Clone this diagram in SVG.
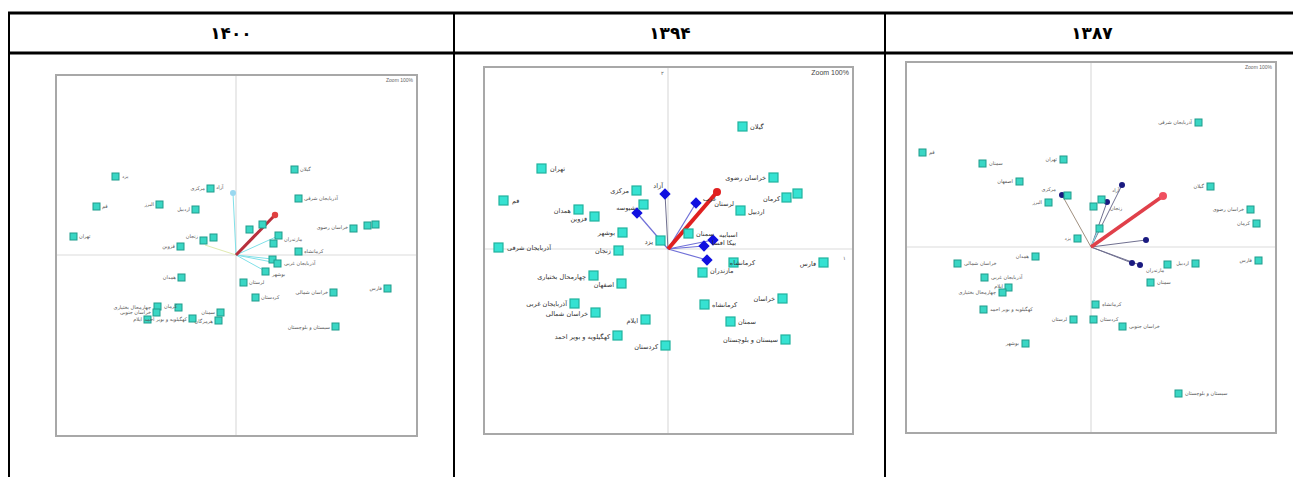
<svg xmlns="http://www.w3.org/2000/svg" width="1293" height="477" viewBox="0 0 1293 477">
<style>
.tb{stroke:#000;stroke-width:3;fill:none}
.tv{stroke:#000;stroke-width:2;fill:none}
.hd{font-family:"DejaVu Sans",sans-serif;font-weight:bold;font-size:17px;fill:#000;text-anchor:middle}
.fr{fill:#fff;stroke:#a8a8a8;stroke-width:2}
.ax{stroke:#dcdcdc;stroke-width:1.2}
.s1{fill:#3ad6c4;stroke:#1f9c8c;stroke-width:1}
.s2{fill:#36e2d2;stroke:#20b39e;stroke-width:1.2}
.lb{font-family:"DejaVu Sans",sans-serif;font-size:5px;fill:#555}
.lb2{font-family:"DejaVu Sans",sans-serif;font-size:6.5px;fill:#333}
.r{text-anchor:end}
.zm{font-family:"Liberation Sans",sans-serif;font-size:5px;fill:#666;text-anchor:end}
.zm2{font-family:"Liberation Sans",sans-serif;font-size:7px;fill:#444;text-anchor:end}
.dm{fill:#1010e0}
.nv{fill:#1a1a80}
.bl{stroke:#7070d8;stroke-width:1.2}
.gl{stroke:#707090;stroke-width:1}
.cl{stroke:#80e0e8;stroke-width:1}
</style>

<g id="table">
<line class="tb" x1="8" y1="13" x2="1293" y2="13"/>
<line class="tb" x1="8" y1="53" x2="1293" y2="53"/>
<line class="tv" x1="9" y1="12" x2="9" y2="477"/>
<line class="tv" x1="454" y1="12" x2="454" y2="477"/>
<line class="tv" x1="885" y1="12" x2="885" y2="477"/>
<text class="hd" x="231" y="39">۱۴۰۰</text>
<text class="hd" x="670" y="39">۱۳۹۴</text>
<text class="hd" x="1092" y="39">۱۳۸۷</text>
</g>

<!-- Panel 1400 -->
<g id="panel1400">
<rect class="fr" x="56" y="75" width="361" height="361"/>
<line class="ax" x1="236" y1="76" x2="236" y2="435"/>
<line class="ax" x1="57" y1="255" x2="416" y2="255"/>
<text class="zm" x="413" y="82">Zoom 100%</text>
<g id="p1-connectors">
<line x1="236" y1="255" x2="205" y2="245" stroke="#e0eab0" stroke-width="1"/>
<line class="cl" x1="236" y1="255" x2="233" y2="193"/>
<line class="cl" x1="236" y1="255" x2="272" y2="259"/>
<line class="cl" x1="236" y1="255" x2="277" y2="263"/>
<line class="cl" x1="236" y1="255" x2="265" y2="271"/>
<line class="cl" x1="236" y1="255" x2="278" y2="236"/>
<line x1="236" y1="255" x2="268" y2="222" stroke="#6a7ad8" stroke-width="1.5"/>
<line x1="236" y1="255" x2="275" y2="215" stroke="#b8303c" stroke-width="3"/>
<circle cx="275" cy="215" r="3.2" fill="#e04040"/>
<circle cx="233" cy="193" r="3" fill="#9ad8f0"/>
</g>
<g id="p1-n1"><rect class="s1" x="112" y="173" width="7" height="7"/><text class="lb" x="122" y="178">یزد</text></g>
<g id="p1-n2"><rect class="s1" x="93" y="203" width="7" height="7"/><text class="lb" x="102" y="208">قم</text></g>
<g id="p1-n3"><rect class="s1" x="70" y="233" width="7" height="7"/><text class="lb" x="79" y="238">تهران</text></g>
<g id="p1-n4"><rect class="s1" x="156" y="201" width="7" height="7"/><text class="lb r" x="154" y="206">البرز</text></g>
<g id="p1-n5"><rect class="s1" x="192" y="206" width="7" height="7"/><text class="lb r" x="190" y="211">اردبیل</text></g>
<g id="p1-n6"><rect class="s1" x="207" y="185" width="7" height="7"/><text class="lb r" x="205" y="190">مرکزی</text><text class="lb" x="216" y="189">آزاد</text></g>
<g id="p1-n7"><rect class="s1" x="210" y="234" width="7" height="7"/><rect class="s1" x="200" y="237" width="7" height="7"/><text class="lb r" x="198" y="238">زنجان</text></g>
<g id="p1-n8"><rect class="s1" x="177" y="243" width="7" height="7"/><text class="lb r" x="175" y="248">قزوین</text></g>
<g id="p1-n9"><rect class="s1" x="291" y="166" width="7" height="7"/><text class="lb" x="300" y="171">گیلان</text></g>
<g id="p1-n10"><rect class="s1" x="295" y="195" width="7" height="7"/><text class="lb" x="304" y="200">آذربایجان شرقی</text></g>
<g id="p1-n11"><rect class="s1" x="350" y="225" width="7" height="7"/><rect class="s1" x="364" y="222" width="7" height="7"/><rect class="s1" x="372" y="221" width="7" height="7"/><text class="lb r" x="348" y="229">خراسان رضوی</text></g>
<g id="p1-n12"><rect class="s1" x="246" y="226" width="7" height="7"/><rect class="s1" x="259" y="221" width="7" height="7"/></g>
<g id="p1-n13"><rect class="s1" x="275" y="232" width="7" height="7"/><text class="lb" x="284" y="241">مازندران</text></g>
<g id="p1-n14"><rect class="s1" x="270" y="240" width="7" height="7"/></g>
<g id="p1-n15"><rect class="s1" x="295" y="248" width="7" height="7"/><text class="lb" x="304" y="253">کرمانشاه</text></g>
<g id="p1-n16"><rect class="s1" x="269" y="256" width="7" height="7"/><rect class="s1" x="274" y="260" width="7" height="7"/><text class="lb" x="284" y="265">آذربایجان غربی</text></g>
<g id="p1-n17"><rect class="s1" x="262" y="268" width="7" height="7"/><text class="lb" x="272" y="276">بوشهر</text></g>
<g id="p1-n18"><rect class="s1" x="178" y="274" width="7" height="7"/><text class="lb r" x="176" y="279">همدان</text></g>
<g id="p1-n19"><rect class="s1" x="240" y="279" width="7" height="7"/><text class="lb" x="249" y="284">لرستان</text></g>
<g id="p1-n20"><rect class="s1" x="252" y="294" width="7" height="7"/><text class="lb" x="261" y="299">کردستان</text></g>
<g id="p1-n21"><rect class="s1" x="330" y="289" width="7" height="7"/><text class="lb r" x="328" y="294">خراسان شمالی</text></g>
<g id="p1-n22"><rect class="s1" x="384" y="285" width="7" height="7"/><text class="lb r" x="382" y="290">فارس</text></g>
<g id="p1-n23"><rect class="s1" x="154" y="303" width="7" height="7"/><rect class="s1" x="153" y="309" width="7" height="7"/><rect class="s1" x="175" y="304" width="7" height="7"/><text class="lb" x="164" y="308">کرمان</text><text class="lb r" x="151" y="309">چهارمحال بختیاری</text><text class="lb r" x="151" y="314">خراسان جنوبی</text></g>
<g id="p1-n24"><rect class="s1" x="144" y="316" width="7" height="7"/><text class="lb r" x="142" y="321">ایلام</text></g>
<g id="p1-n25"><rect class="s1" x="189" y="315" width="7" height="7"/><text class="lb r" x="187" y="321">کهگیلویه و بویر احمد</text></g>
<g id="p1-n26"><rect class="s1" x="217" y="309" width="7" height="7"/><text class="lb r" x="215" y="314">سمنان</text></g>
<g id="p1-n27"><rect class="s1" x="215" y="317" width="7" height="7"/><text class="lb r" x="213" y="323">هرمزگان</text></g>
<g id="p1-n28"><rect class="s1" x="332" y="323" width="7" height="7"/><text class="lb r" x="330" y="329">سیستان و بلوچستان</text></g>
</g>

<!-- Panel 1394 -->
<g id="panel1394">
<rect class="fr" x="484" y="67" width="369" height="367"/>
<line class="ax" x1="668" y1="68" x2="668" y2="433"/>
<line class="ax" x1="485" y1="249" x2="852" y2="249"/>
<text class="zm2" x="849" y="75">Zoom 100%</text>
<text class="lb" x="661" y="75">۲</text>
<text class="lb" x="843" y="260">۱</text>
<g id="p2-connectors">
<line class="gl" x1="668" y1="249" x2="665" y2="194"/>
<line class="bl" x1="668" y1="249" x2="637" y2="213"/>
<line class="bl" x1="668" y1="249" x2="696" y2="203"/>
<line class="bl" x1="668" y1="249" x2="713" y2="240"/>
<line class="bl" x1="668" y1="249" x2="704" y2="246"/>
<line class="bl" x1="668" y1="249" x2="707" y2="260"/>
<line x1="668" y1="249" x2="717" y2="192" stroke="#e02020" stroke-width="4"/>
<circle cx="717" cy="192" r="4" fill="#e02020"/>
</g>
<g id="p2-d1"><rect class="dm" x="661" y="190" width="8" height="8" transform="rotate(45 665 194)"/><text class="lb2 r" x="663" y="188">آزاد</text></g>
<g id="p2-d2"><rect class="dm" x="633" y="209" width="8" height="8" transform="rotate(45 637 213)"/></g>
<g id="p2-d3"><rect class="dm" x="692" y="199" width="8" height="8" transform="rotate(45 696 203)"/><text class="lb2" x="703" y="201">عرب</text></g>
<g id="p2-d4"><rect class="dm" x="709" y="236" width="8" height="8" transform="rotate(45 713 240)"/><text class="lb2" x="719" y="237">اسبابیه</text></g>
<g id="p2-d5"><rect class="dm" x="700" y="242" width="8" height="8" transform="rotate(45 704 246)"/><text class="lb2" x="712" y="245">بیکا افسا</text></g>
<g id="p2-d6"><rect class="dm" x="703" y="256" width="8" height="8" transform="rotate(45 707 260)"/></g>
<g id="p2-n1"><rect class="s2" x="738" y="122" width="9" height="9"/><text class="lb2" x="750" y="129">گیلان</text></g>
<g id="p2-n2"><rect class="s2" x="537" y="164" width="9" height="9"/><text class="lb2" x="550" y="171">تهران</text></g>
<g id="p2-n3"><rect class="s2" x="499" y="196" width="9" height="9"/><text class="lb2" x="512" y="203">قم</text></g>
<g id="p2-n4"><rect class="s2" x="632" y="186" width="9" height="9"/><text class="lb2 r" x="629" y="193">مرکزی</text></g>
<g id="p2-n5"><rect class="s2" x="639" y="200" width="9" height="9"/><text class="lb2 r" x="636" y="210">شیوسه</text></g>
<g id="p2-n6"><rect class="s2" x="574" y="205" width="9" height="9"/><text class="lb2 r" x="571" y="213">همدان</text></g>
<g id="p2-n7"><rect class="s2" x="590" y="212" width="9" height="9"/><text class="lb2 r" x="587" y="221">قزوین</text></g>
<g id="p2-n8"><rect class="s2" x="618" y="228" width="9" height="9"/><text class="lb2 r" x="615" y="235">بوشهر</text></g>
<g id="p2-n9"><rect class="s2" x="656" y="236" width="9" height="9"/><text class="lb2 r" x="653" y="244">یزد</text></g>
<g id="p2-n10"><rect class="s2" x="494" y="243" width="9" height="9"/><text class="lb2" x="507" y="250">آذربایجان شرقی</text></g>
<g id="p2-n11"><rect class="s2" x="614" y="246" width="9" height="9"/><text class="lb2 r" x="611" y="253">زنجان</text></g>
<g id="p2-n12"><rect class="s2" x="684" y="229" width="9" height="9"/><text class="lb2" x="696" y="236">سمنان</text></g>
<g id="p2-n13"><rect class="s2" x="769" y="173" width="9" height="9"/><text class="lb2 r" x="766" y="180">خراسان رضوی</text></g>
<g id="p2-n14"><rect class="s2" x="782" y="193" width="9" height="9"/><rect class="s2" x="793" y="189" width="9" height="9"/><text class="lb2 r" x="780" y="201">کرمان</text></g>
<g id="p2-n15"><rect class="s2" x="736" y="206" width="9" height="9"/><text class="lb2" x="748" y="214">اردبیل</text><text class="lb2 r" x="734" y="206">لرستان</text></g>
<g id="p2-n16"><rect class="s2" x="729" y="258" width="9" height="9"/><text class="lb2 r" x="755" y="265">کرمانشاه</text></g>
<g id="p2-n17"><rect class="s2" x="698" y="268" width="9" height="9"/><text class="lb2" x="710" y="273">مازندران</text></g>
<g id="p2-n18"><rect class="s2" x="819" y="258" width="9" height="9"/><text class="lb2 r" x="816" y="266">فارس</text></g>
<g id="p2-n19"><rect class="s2" x="589" y="271" width="9" height="9"/><text class="lb2 r" x="586" y="279">چهارمحال بختیاری</text></g>
<g id="p2-n20"><rect class="s2" x="617" y="279" width="9" height="9"/><text class="lb2 r" x="614" y="287">اصفهان</text></g>
<g id="p2-n21"><rect class="s2" x="570" y="299" width="9" height="9"/><text class="lb2 r" x="567" y="306">آذربایجان غربی</text></g>
<g id="p2-n22"><rect class="s2" x="591" y="308" width="9" height="9"/><text class="lb2 r" x="588" y="316">خراسان شمالی</text></g>
<g id="p2-n23"><rect class="s2" x="641" y="315" width="9" height="9"/><text class="lb2 r" x="638" y="323">ایلام</text></g>
<g id="p2-n24"><rect class="s2" x="613" y="331" width="9" height="9"/><text class="lb2 r" x="610" y="339">کهگیلویه و بویر احمد</text></g>
<g id="p2-n25"><rect class="s2" x="661" y="341" width="9" height="9"/><text class="lb2 r" x="658" y="349">کردستان</text></g>
<g id="p2-n26"><rect class="s2" x="778" y="294" width="9" height="9"/><text class="lb2 r" x="775" y="301">خراسان</text></g>
<g id="p2-n27"><rect class="s2" x="700" y="300" width="9" height="9"/><text class="lb2" x="712" y="307">کرمانشاه</text></g>
<g id="p2-n28"><rect class="s2" x="726" y="317" width="9" height="9"/><text class="lb2" x="738" y="324">سمنان</text></g>
<g id="p2-n29"><rect class="s2" x="781" y="335" width="9" height="9"/><text class="lb2 r" x="778" y="342">سیستان و بلوچستان</text></g>
</g>

<!-- Panel 1387 -->
<g id="panel1387">
<rect class="fr" x="906" y="62" width="370" height="371"/>
<line class="ax" x1="1091" y1="63" x2="1091" y2="432"/>
<line class="ax" x1="907" y1="247" x2="1275" y2="247"/>
<text class="zm" x="1272" y="69">Zoom 100%</text>
<g id="p3-connectors">
<line class="gl" x1="1091" y1="247" x2="1122" y2="185"/>
<line class="gl" x1="1091" y1="247" x2="1107" y2="202"/>
<line x1="1091" y1="247" x2="1062" y2="195" stroke="#a09080" stroke-width="1"/>
<line class="gl" x1="1091" y1="247" x2="1146" y2="240"/>
<line class="gl" x1="1091" y1="247" x2="1132" y2="263"/>
<line class="gl" x1="1091" y1="247" x2="1140" y2="265"/>
<line class="cl" x1="1091" y1="247" x2="1099" y2="228"/>
<line x1="1091" y1="247" x2="1163" y2="196" stroke="#e0404a" stroke-width="3.5"/>
<circle cx="1163" cy="196" r="4" fill="#f05060"/>
<circle class="nv" cx="1122" cy="185" r="3"/>
<circle class="nv" cx="1107" cy="202" r="3"/>
<circle class="nv" cx="1062" cy="195" r="3"/>
<circle class="nv" cx="1146" cy="240" r="3"/>
<circle class="nv" cx="1132" cy="263" r="3"/>
<circle class="nv" cx="1140" cy="265" r="3"/>
</g>
<g id="p3-n1"><rect class="s1" x="1195" y="119" width="7" height="7"/><text class="lb r" x="1192" y="124">آذربایجان شرقی</text></g>
<g id="p3-n2"><rect class="s1" x="919" y="149" width="7" height="7"/><text class="lb" x="929" y="154">قم</text></g>
<g id="p3-n3"><rect class="s1" x="979" y="160" width="7" height="7"/><text class="lb" x="989" y="165">سمنان</text></g>
<g id="p3-n4"><rect class="s1" x="1060" y="156" width="7" height="7"/><text class="lb r" x="1057" y="161">تهران</text></g>
<g id="p3-n5"><rect class="s1" x="1016" y="178" width="7" height="7"/><text class="lb r" x="1013" y="183">اصفهان</text></g>
<g id="p3-n6"><rect class="s1" x="1064" y="192" width="7" height="7"/><text class="lb r" x="1056" y="191">مرکزی</text></g>
<g id="p3-n7"><rect class="s1" x="1045" y="199" width="7" height="7"/><text class="lb r" x="1042" y="204">البرز</text></g>
<g id="p3-n8"><rect class="s1" x="1098" y="196" width="7" height="7"/><rect class="s1" x="1090" y="203" width="7" height="7"/><text class="lb" x="1112" y="192">آزاد</text><text class="lb" x="1110" y="210">زنجان</text></g>
<g id="p3-n9"><rect class="s1" x="1207" y="183" width="7" height="7"/><text class="lb r" x="1204" y="188">گیلان</text></g>
<g id="p3-n10"><rect class="s1" x="1247" y="206" width="7" height="7"/><text class="lb r" x="1244" y="211">خراسان رضوی</text></g>
<g id="p3-n11"><rect class="s1" x="1253" y="220" width="7" height="7"/><text class="lb r" x="1250" y="225">کرمان</text></g>
<g id="p3-n12"><rect class="s1" x="1096" y="225" width="7" height="7"/></g>
<g id="p3-n13"><rect class="s1" x="1074" y="235" width="7" height="7"/><text class="lb r" x="1071" y="240">یزد</text></g>
<g id="p3-n14"><rect class="s1" x="1032" y="253" width="7" height="7"/><text class="lb r" x="1029" y="258">همدان</text></g>
<g id="p3-n15"><rect class="s1" x="954" y="260" width="7" height="7"/><text class="lb" x="964" y="265">خراسان شمالی</text></g>
<g id="p3-n16"><rect class="s1" x="981" y="274" width="7" height="7"/><text class="lb" x="991" y="279">آذربایجان غربی</text></g>
<g id="p3-n17"><rect class="s1" x="1005" y="284" width="7" height="7"/><rect class="s1" x="999" y="289" width="7" height="7"/><text class="lb r" x="996" y="294">چهارمحال بختیاری</text><text class="lb r" x="1003" y="288">ایلام</text></g>
<g id="p3-n18"><rect class="s1" x="980" y="306" width="7" height="7"/><text class="lb" x="990" y="311">کهگیلویه و بویر احمد</text></g>
<g id="p3-n19"><rect class="s1" x="1070" y="316" width="7" height="7"/><text class="lb r" x="1067" y="321">لرستان</text></g>
<g id="p3-n20"><rect class="s1" x="1092" y="301" width="7" height="7"/><text class="lb" x="1102" y="306">کرمانشاه</text></g>
<g id="p3-n21"><rect class="s1" x="1090" y="316" width="7" height="7"/><text class="lb" x="1100" y="321">کردستان</text></g>
<g id="p3-n22"><rect class="s1" x="1119" y="323" width="7" height="7"/><text class="lb" x="1129" y="328">خراسان جنوبی</text></g>
<g id="p3-n23"><rect class="s1" x="1022" y="340" width="7" height="7"/><text class="lb r" x="1019" y="345">بوشهر</text></g>
<g id="p3-n24"><rect class="s1" x="1164" y="261" width="7" height="7"/><rect class="s1" x="1192" y="260" width="7" height="7"/><text class="lb r" x="1189" y="265">اردبیل</text><text class="lb" x="1146" y="272">مازندران</text></g>
<g id="p3-n25"><rect class="s1" x="1147" y="279" width="7" height="7"/><text class="lb" x="1157" y="284">سمنان</text></g>
<g id="p3-n26"><rect class="s1" x="1255" y="257" width="7" height="7"/><text class="lb r" x="1252" y="262">فارس</text></g>
<g id="p3-n27"><rect class="s1" x="1175" y="390" width="7" height="7"/><text class="lb" x="1185" y="395">سیستان و بلوچستان</text></g>
</g>
</svg>
